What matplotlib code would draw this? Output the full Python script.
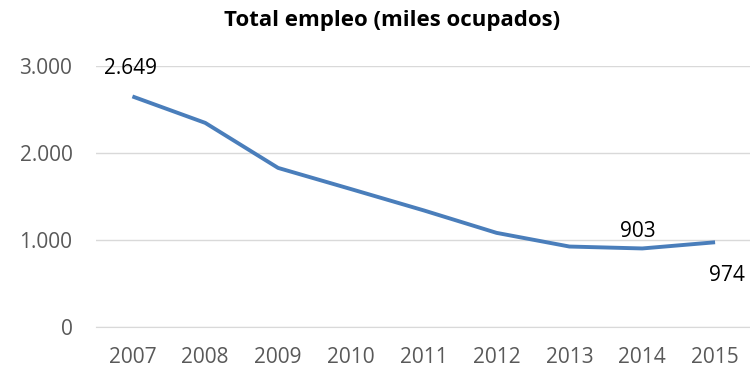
import matplotlib.pyplot as plt

# datos
years = ['2007', '2008', '2009', '2010', '2011', '2012', '2013', '2014', '2015']
empleo = [2649, 2345, 1828, 1585, 1340, 1082, 925, 903, 974]
yticks = [0, 1000, 2000, 3000]
ytick_labels = ['0', '1.000', '2.000', '3.000']

plt.rcParams['font.family'] = ['Open Sans', 'DejaVu Sans']

fig = plt.figure(figsize=(7.5, 3.7), dpi=100)
ax = fig.add_axes([0.128, 0.116, 0.874, 0.706])

x = list(range(len(years)))
ax.plot(x, empleo, color='#4a7ebb', lw=2.8, solid_capstyle='butt', zorder=3)

ax.set_xlim(-0.5, len(years) - 0.5)
ax.set_ylim(0, 3000)
ax.set_xticks(x)
ax.set_xticklabels(years)
ax.set_yticks(yticks)
ax.set_yticklabels(ytick_labels)
ax.tick_params(axis='both', length=0, labelsize=15, labelcolor='#595959')
ax.tick_params(axis='x', pad=14)
ax.tick_params(axis='y', pad=17)
ax.grid(axis='y', color='#d9d9d9', lw=1)
ax.set_axisbelow(True)
for s in ['top', 'right', 'left']:
    ax.spines[s].set_visible(False)
ax.spines['bottom'].set_color('#d9d9d9')

# etiquetas de datos
ax.annotate('2.649', (0, empleo[0]), xytext=(-2, 28), textcoords='offset pixels',
            ha='center', va='center', fontsize=15, color='black')
ax.annotate('903', (7, empleo[7]), xytext=(-4, 17), textcoords='offset pixels',
            ha='center', va='center', fontsize=15, color='black')
ax.annotate('974', (8, empleo[8]), xytext=(12, -33), textcoords='offset pixels',
            ha='center', va='center', fontsize=15, color='black')

fig.text(0.523, 0.945, 'Total empleo (miles ocupados)', ha='center', va='center',
         fontsize=16, fontweight='bold', color='black')

fig.savefig('out.png', dpi=100)
